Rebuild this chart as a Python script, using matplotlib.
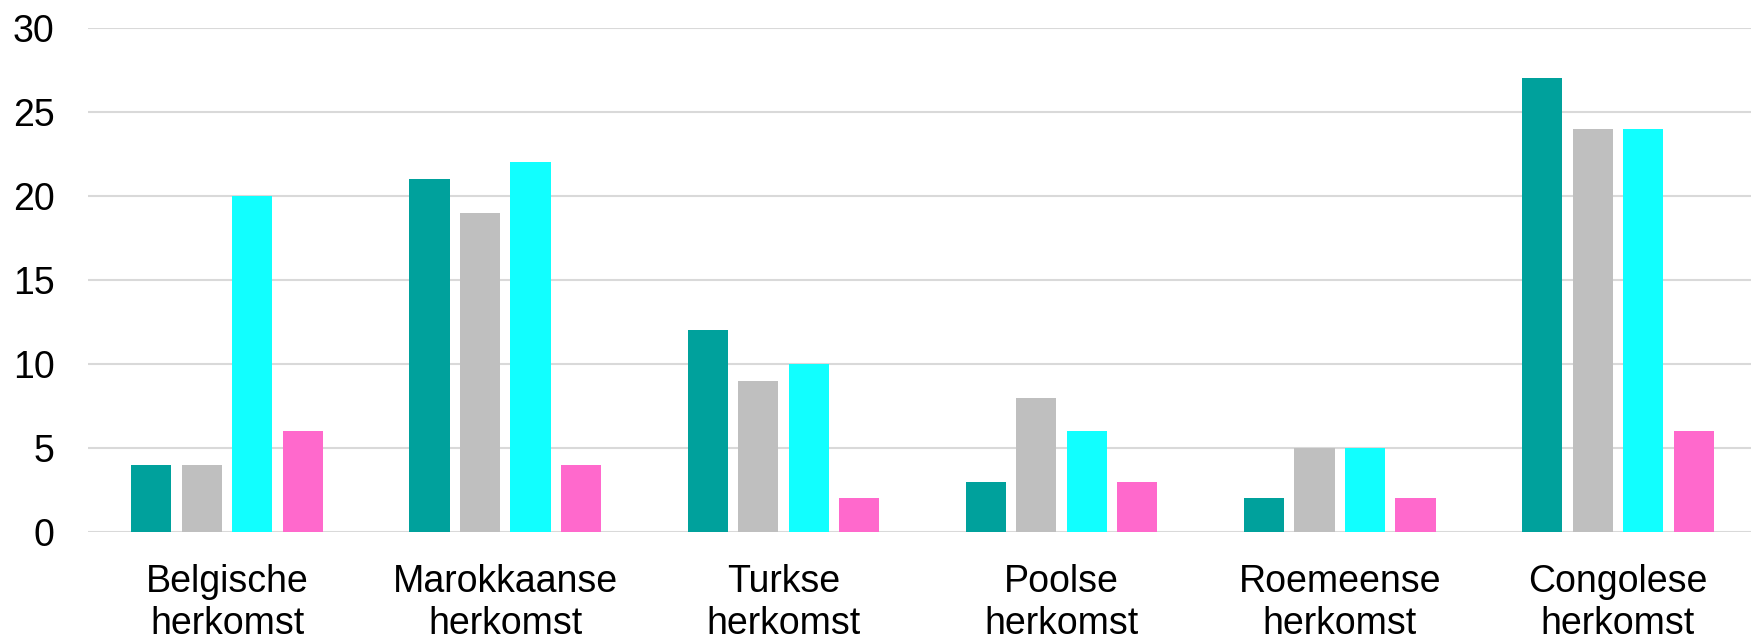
import numpy as np
import matplotlib.pyplot as plt

plt.rcParams['font.family'] = ['Liberation Sans', 'DejaVu Sans']

categories = ["Belgische\nherkomst", "Marokkaanse\nherkomst", "Turkse\nherkomst",
              "Poolse\nherkomst", "Roemeense\nherkomst", "Congolese\nherkomst"]
series_a = [4, 21, 12, 3, 2, 27]
series_b = [4, 19, 9, 8, 5, 24]
series_c = [20, 22, 10, 6, 5, 24]
series_d = [6, 4, 2, 3, 2, 6]
colors = ["#00A19C", "#BFBFBF", "#11FFFF", "#FF69CC"]

W, H = 1751, 635
fig = plt.figure(figsize=(W / 100, H / 100), dpi=100)
# plot area runs a few pixels past the right edge, as in the original
ax = fig.add_axes([88 / W, 1 - 532 / H, (1757 - 88) / W, (532 - 28) / H])

x = np.arange(len(categories))
step = 0.1816
width = 0.144
for i, (vals, c) in enumerate(zip([series_a, series_b, series_c, series_d], colors)):
    ax.bar(x + (i - 1.5) * step, vals, width=width, color=c, zorder=3)

ax.set_xlim(-0.5, len(categories) - 0.5)
ax.set_ylim(0, 30)
ax.set_yticks(range(0, 31, 5))
ax.set_xticks(x)
ax.set_xticklabels(categories)
ax.grid(axis='y', color='#D9D9D9', linewidth=1.5, zorder=0)
for s in ax.spines.values():
    s.set_visible(False)
ax.tick_params(axis='both', length=0, labelsize=27, colors='black')
ax.tick_params(axis='y', pad=24)
ax.tick_params(axis='x', pad=23)

fig.savefig("out.png", dpi=100)
